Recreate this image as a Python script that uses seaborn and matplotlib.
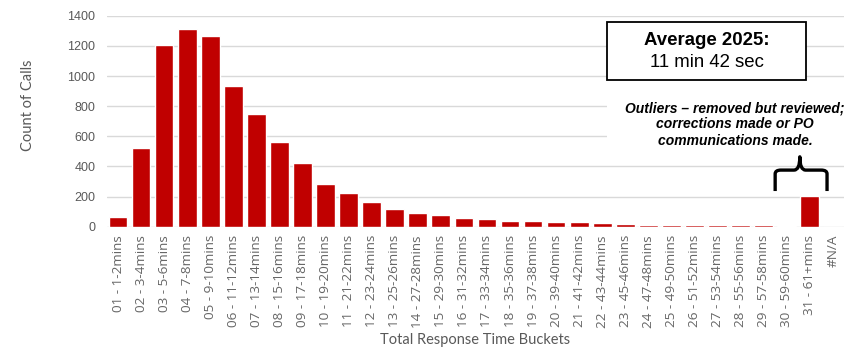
import matplotlib
matplotlib.use("Agg")
import matplotlib.pyplot as plt
from matplotlib.path import Path
from matplotlib.patches import PathPatch, Rectangle
import seaborn as sns
import pandas as pd

buckets = [
    "01 - 1-2mins", "02 - 3-4mins", "03 - 5-6mins", "04 - 7-8mins", "05 - 9-10mins",
    "06 - 11-12mins", "07 - 13-14mins", "08 - 15-16mins", "09 - 17-18mins", "10 - 19-20mins",
    "11 - 21-22mins", "12 - 23-24mins", "13 - 25-26mins", "14 - 27-28mins", "15 - 29-30mins",
    "16 - 31-32mins", "17 - 33-34mins", "18 - 35-36mins", "19 - 37-38mins", "20 - 39-40mins",
    "21 - 41-42mins", "22 - 43-44mins", "23 - 45-46mins", "24 - 47-48mins", "25 - 49-50mins",
    "26 - 51-52mins", "27 - 53-54mins", "28 - 55-56mins", "29 - 57-58mins", "30 - 59-60mins",
    "31 - 61+mins", "#N/A",
]
calls = [
    62, 524, 1205, 1310, 1265,
    936, 748, 560, 420, 285,
    222, 162, 117, 89, 78,
    56, 51, 40, 40, 33,
    31, 24, 16, 11, 11,
    11, 11, 11, 11, 4,
    206, 0,
]
yticks = [0, 200, 400, 600, 800, 1000, 1200, 1400]

df = pd.DataFrame({"bucket": buckets, "calls": calls})

sns.set_theme(style="white")
plt.rcParams["font.family"] = ["Lato", "DejaVu Sans"]

fig = plt.figure(figsize=(8.52, 3.51), dpi=100)
ax = fig.add_axes([0.125, 0.354, 0.866, 0.601])

sns.barplot(data=df, x="bucket", y="calls", color="#C00000", saturation=1,
            width=0.81, ax=ax, zorder=3)

ax.set_ylim(0, 1400)
ax.set_xlim(-0.5, len(buckets) - 0.5)
ax.set_yticks(yticks)
ax.set_yticklabels([str(t) for t in yticks], family="Liberation Sans",
                   fontsize=9, color="#595959")
ax.yaxis.grid(True, color="#D9D9D9", linewidth=1.0, zorder=0)
ax.set_axisbelow(True)
for s in ax.spines.values():
    s.set_visible(False)
ax.tick_params(axis="both", length=0)
ax.tick_params(axis="y", pad=8)
ax.tick_params(axis="x", pad=6)
plt.setp(ax.get_xticklabels(), rotation=90, fontsize=9.7, color="#666666",
         family=["Open Sans", "DejaVu Sans"])

ax.set_xlabel("Total Response Time Buckets", fontsize=10.5, color="#595959")
ax.xaxis.set_label_coords(0.5, -0.505)
ax.set_ylabel("Count of Calls", fontsize=10.5, color="#595959")
ax.yaxis.set_label_coords(-0.097, 0.577)

# white panel behind the outlier note so gridlines break around it
ax.add_patch(Rectangle((0.678, 0.37), 0.322, 0.31, transform=ax.transAxes,
                       facecolor="white", edgecolor="none", zorder=1))

# average box
ax.add_patch(Rectangle((0.678, 0.695), 0.27, 0.277, transform=ax.transAxes,
                       facecolor="white", edgecolor="black", linewidth=1.3, zorder=5))
ax.text(0.814, 0.885, "Average 2025:", transform=ax.transAxes, ha="center", va="center",
        family="Liberation Sans", fontweight="bold", fontsize=13.4, color="black",
        zorder=6)
ax.text(0.814, 0.778, "11 min 42 sec", transform=ax.transAxes, ha="center", va="center",
        family="Liberation Sans", fontsize=13.4, color="black", zorder=6)

# outlier note
ax.text(0.852, 0.595,
        "Outliers \u2013 removed but reviewed;\ncorrections made or PO\ncommunications made.",
        transform=ax.transAxes, ha="center", va="top", family="Liberation Sans",
        fontweight="bold", fontstyle="italic", fontsize=10, color="black",
        linespacing=1.2, zorder=6)

# curly brace over the outlier bucket
x0, x1, xm = 28.5, 30.75, 29.57
yb, ym, yt = 237, 376, 464
r = 0.25
verts = [
    (x0, yb), (x0, ym - 25),
    (x0, ym), (x0 + r, ym),
    (xm - r, ym),
    (xm, ym), (xm, yt),
    (xm, ym), (xm + r, ym),
    (x1 - r, ym),
    (x1, ym), (x1, ym - 25),
    (x1, yb),
]
codes = [Path.MOVETO, Path.LINETO,
         Path.CURVE3, Path.CURVE3,
         Path.LINETO,
         Path.CURVE3, Path.CURVE3,
         Path.CURVE3, Path.CURVE3,
         Path.LINETO,
         Path.CURVE3, Path.CURVE3,
         Path.LINETO]
ax.add_patch(PathPatch(Path(verts, codes), facecolor="none", edgecolor="black",
                       linewidth=2.4, zorder=6, capstyle="butt", joinstyle="round"))

fig.savefig("out.png", dpi=100)
